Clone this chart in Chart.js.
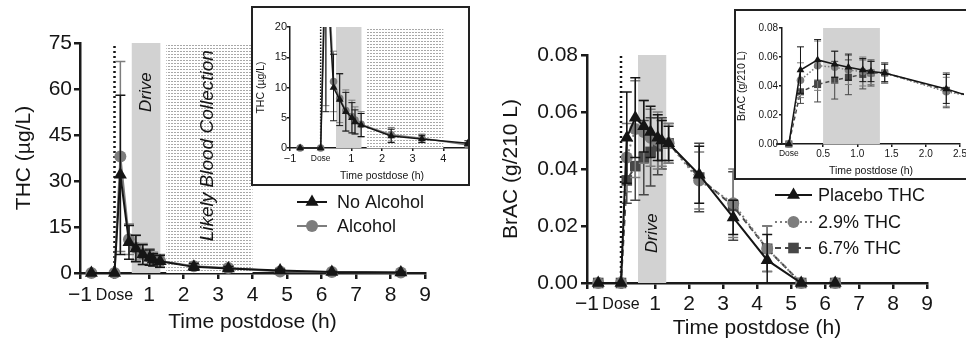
<!DOCTYPE html>
<html>
<head>
<meta charset="utf-8">
<script src="https://cdn.jsdelivr.net/npm/chart.js@4/dist/chart.umd.min.js"></script>
<style>
html, body { margin: 0; padding: 0; background: #fff; overflow: hidden; }
.pane { position: absolute; }
.inset { position: absolute; background: #fff; border: 2px solid #222; box-sizing: border-box; overflow: hidden; }
</style>
</head>
<body>
<div class="pane" style="left:0;top:0;width:480px;height:343px"><canvas id="thcMain"></canvas></div>
<div class="pane" style="left:480px;top:0;width:486px;height:343px"><canvas id="bracMain"></canvas></div>
<div class="inset" style="left:251px;top:6px;width:219px;height:180px">
  <div class="pane" style="left:0;top:0;width:230px;height:176px"><canvas id="thcInset"></canvas></div>
</div>
<div class="inset" style="left:734px;top:9px;width:240px;height:171px">
  <div class="pane" style="left:0;top:0;width:236px;height:167px"><canvas id="bracInset"></canvas></div>
</div>
<script>
// blood THC after smoking, with and without alcohol (hours from dose)
const thcTime = [-0.67, 0, 0.17, 0.42, 0.62, 0.82, 1.02, 1.12, 1.32, 2.3, 3.3, 4.8, 6.3, 8.3];
const thcNoAlcohol = [0, 0, 32, 10, 8, 6, 5, 4.3, 3.8, 2.0, 1.5, 0.8, 0.3, 0.2];
const thcNoAlcoholSd = [0, 0, 26, 5.5, 4.3, 3.2, 2.5, 2.0, 1.9, 1.1, 0.6, 0.4, 0.2, 0.1];
const thcAlcohol = [0, 0, 38, 11, 8.2, 6.2, 5.2, 4.6, 3.9, 2.2, 1.6, 0.5, 0.3, 0.2];
const thcAlcoholSd = [0, 0, 31, 5, 4, 3.4, 2.7, 2.2, 2.1, 1.2, 0.7, 0.3, 0.2, 0.1];

// breath alcohol by THC condition
const bracTime = [-0.67, 0, 0.17, 0.42, 0.67, 0.87, 1.08, 1.2, 1.4, 2.3, 3.3, 4.3, 5.3, 6.3];
const bracPlacebo = [0, 0, 0.051, 0.058, 0.055, 0.053, 0.051, 0.050, 0.049, 0.038, 0.023, 0.008, 0, 0];
const bracPlaceboSd = [0, 0, 0.016, 0.014, 0.009, 0.009, 0.008, 0.007, 0.006, 0.010, 0.006, 0.009, 0, 0];
const brac29 = [0, 0, 0.044, 0.054, 0.053, 0.051, 0.050, 0.049, 0.049, 0.036, 0.028, 0.012, 0, 0];
const brac29Sd = [0, 0, 0.012, 0.017, 0.011, 0.010, 0.010, 0.008, 0.007, 0.010, 0.012, 0.008, 0, 0];
const brac67 = [0, 0, 0.036, 0.041, 0.044, 0.046, 0.048, 0.049, 0.049, 0.037, 0.027, 0.012, 0, 0];
const brac67Sd = [0, 0, 0.008, 0.012, 0.013, 0.012, 0.010, 0.009, 0.007, 0.012, 0.012, 0.008, 0, 0];

const driveWindow = [0.5, 1.33];
const bloodWindow = [1.5, 4.0];

const hourTicks = [-1, 0, 1, 2, 3, 4, 5, 6, 7, 8, 9];
const thcTicks = [0, 15, 30, 45, 60, 75];
const thcInsetHours = [-1, 0, 1, 2, 3, 4, 5];
const thcInsetTicks = [0, 5, 10, 15, 20];
const bracTicks = [0, 0.02, 0.04, 0.06, 0.08];
const bracInsetHours = [0, 0.5, 1, 1.5, 2, 2.5];

const FONT = "'Liberation Sans', Arial, Helvetica, sans-serif";
const INK = '#151515';

function drawMarker(ctx, style, x, y, r, color) {
  ctx.save();
  ctx.fillStyle = color;
  ctx.beginPath();
  if (style === 'triangle') {
    ctx.moveTo(x, y - r);
    ctx.lineTo(x + r * 0.866, y + r * 0.5);
    ctx.lineTo(x - r * 0.866, y + r * 0.5);
    ctx.closePath();
  } else if (style === 'rect') {
    const s = r * Math.SQRT1_2;
    ctx.rect(x - s, y - s, 2 * s, 2 * s);
  } else {
    ctx.arc(x, y, r, 0, Math.PI * 2);
  }
  ctx.fill();
  ctx.restore();
}

let dots = null;
function dotFill(ctx) {
  if (!dots) {
    const c = document.createElement('canvas');
    c.width = 3; c.height = 3;
    const p = c.getContext('2d');
    p.fillStyle = '#fff'; p.fillRect(0, 0, 3, 3);
    p.fillStyle = '#a8a8a8'; p.fillRect(0, 0, 2, 1);
    dots = c;
  }
  return ctx.createPattern(dots, 'repeat');
}

// shaded time windows, their captions and the dosing line
const windowsPlugin = {
  id: 'windows',
  beforeDatasetsDraw(chart, args, opts) {
    const {ctx, chartArea: a, scales: {x, y}} = chart;
    ctx.save();
    ctx.beginPath();
    ctx.rect(a.left, a.top, a.width, a.height);
    ctx.clip();
    const yTop = y.getPixelForValue(y.max), yBot = y.getPixelForValue(0);
    (opts.bands || []).forEach(b => {
      const x0 = x.getPixelForValue(b.range[0]), x1 = x.getPixelForValue(b.range[1]);
      ctx.fillStyle = b.fill === 'dots' ? dotFill(ctx) : b.fill;
      ctx.fillRect(x0, yTop, x1 - x0, yBot - yTop);
      if (b.text) {
        ctx.save();
        ctx.translate((x0 + x1) / 2 + (b.dx || 0), y.getPixelForValue(b.textAt));
        ctx.rotate(-Math.PI / 2);
        ctx.font = 'italic ' + b.size + 'px ' + FONT;
        ctx.fillStyle = INK;
        ctx.textAlign = 'center';
        ctx.textBaseline = 'middle';
        ctx.fillText(b.text, 0, 0);
        ctx.restore();
      }
    });
    if (opts.dose) {
      const px = x.getPixelForValue(0);
      ctx.strokeStyle = INK;
      ctx.lineWidth = opts.dose.width;
      ctx.setLineDash(opts.dose.dash);
      ctx.beginPath();
      ctx.moveTo(px, yBot);
      ctx.lineTo(px, yTop);
      ctx.stroke();
    }
    ctx.restore();
  }
};

// mean ± SD whiskers, drawn under each series' markers
const whiskerPlugin = {
  id: 'whiskers',
  beforeDatasetDraw(chart, args, opts) {
    const ds = chart.data.datasets[args.index];
    if (!ds.sd) return;
    const {ctx, chartArea: a, scales: {y}} = chart;
    ctx.save();
    if (opts.clip) {
      ctx.beginPath();
      ctx.rect(a.left - 6, a.top, a.width + 12, a.height + 8);
      ctx.clip();
    }
    ctx.strokeStyle = ds.borderColor;
    ctx.lineWidth = opts.width;
    args.meta.data.forEach((pt, i) => {
      const sd = ds.sd[i];
      if (!sd) return;
      const v = ds.data[i].y;
      const hi = y.getPixelForValue(v + sd), lo = y.getPixelForValue(Math.max(v - sd, 0));
      ctx.beginPath();
      ctx.moveTo(pt.x, hi); ctx.lineTo(pt.x, lo);
      ctx.moveTo(pt.x - opts.cap, hi); ctx.lineTo(pt.x + opts.cap, hi);
      if (v - sd > 0) { ctx.moveTo(pt.x - opts.cap, lo); ctx.lineTo(pt.x + opts.cap, lo); }
      ctx.stroke();
    });
    ctx.restore();
  }
};

// symbol key: line sample, marker and label per series
const keyPlugin = {
  id: 'key',
  afterDraw(chart, args, opts) {
    if (!opts.rows) return;
    const ctx = chart.ctx;
    chart.data.datasets.forEach((ds, i) => {
      const cy = opts.rows[i];
      ctx.save();
      ctx.strokeStyle = ds.borderColor;
      ctx.lineWidth = ds.borderWidth;
      ctx.setLineDash(ds.borderDash || []);
      ctx.beginPath();
      ctx.moveTo(opts.x, cy); ctx.lineTo(opts.x + opts.len, cy);
      ctx.stroke();
      ctx.restore();
      drawMarker(ctx, ds.pointStyle, opts.x + opts.len / 2, cy, ds.pointRadius, ds.pointBackgroundColor);
      ctx.save();
      ctx.font = opts.size + 'px ' + FONT;
      ctx.fillStyle = INK;
      ctx.textBaseline = 'middle';
      ctx.fillText(ds.label, opts.textX, cy + 1);
      ctx.restore();
    });
  }
};

function series(label, xs, ys, sd, look) {
  return Object.assign({
    label,
    data: xs.map((t, i) => ({x: t, y: ys[i]})),
    sd,
    tension: 0,
    pointBorderWidth: 0,
    pointBackgroundColor: look.borderColor,
    pointBorderColor: look.borderColor,
    backgroundColor: look.borderColor
  }, look);
}

function hourLabel(v) {
  if (v === 0) return 'Dose';
  if (v < 0) return '\u2212' + Math.abs(v);
  return String(v);
}

function buildChart(id, o) {
  const canvas = document.getElementById(id);
  const W = canvas.parentNode.clientWidth, H = canvas.parentNode.clientHeight;
  const axis = {color: '#1a1a1a', width: o.axisWidth};
  const grid = {drawOnChartArea: false, drawTicks: true, tickLength: o.tickLen, color: '#1a1a1a', lineWidth: o.axisWidth};
  return new Chart(canvas, {
    type: 'line',
    data: {datasets: o.datasets},
    options: {
      responsive: true,
      maintainAspectRatio: false,
      animation: false,
      events: [],
      layout: {padding: {left: 0, top: o.plot.top, right: W - o.plot.right, bottom: 0}},
      plugins: {
        legend: {display: false},
        tooltip: {enabled: false},
        windows: o.windows,
        whiskers: o.whiskers,
        key: o.key || {}
      },
      scales: {
        x: {
          type: 'linear', min: o.x.min, max: o.x.max,
          afterBuildTicks: s => { s.ticks = o.x.ticks.map(v => ({value: v})); },
          afterFit: s => { s.height = H - o.plot.bottom; },
          border: axis, grid,
          ticks: {
            color: INK, padding: o.x.pad, maxRotation: 0, autoSkip: false,
            callback: o.x.label,
            font: c => (c.tick && c.tick.value === 0
              ? {family: FONT, size: o.doseSize, lineHeight: o.tickSize * 1.2 / o.doseSize}
              : {family: FONT, size: o.tickSize})
          },
          title: {display: true, text: 'Time postdose (h)', color: INK,
            font: {family: FONT, size: o.titleSize}, padding: {top: 0, bottom: o.x.titlePad}}
        },
        y: {
          type: 'linear', min: o.y.min, max: o.y.max,
          afterBuildTicks: s => { s.ticks = o.y.ticks.map(v => ({value: v})); },
          afterFit: s => { s.width = o.plot.left; },
          border: axis, grid,
          ticks: {color: INK, padding: o.y.pad, callback: o.y.label, font: {family: FONT, size: o.tickSize}},
          title: {display: true, text: o.y.title, color: INK,
            font: {family: FONT, size: o.titleSize}, padding: {top: o.y.titlePad, bottom: 0}}
        }
      }
    },
    plugins: [windowsPlugin, whiskerPlugin, keyPlugin]
  });
}

const mainLooks = {
  noAlc: {borderColor: INK, borderWidth: 2, pointStyle: 'triangle', pointRadius: 7.5, clip: false},
  alc: {borderColor: '#7d7d7d', borderWidth: 2, pointStyle: 'circle', pointRadius: 6, clip: false},
  placebo: {borderColor: INK, borderWidth: 2, pointStyle: 'triangle', pointRadius: 7.5, clip: false},
  low: {borderColor: '#7d7d7d', borderWidth: 2, borderDash: [2, 3], pointStyle: 'circle', pointRadius: 6, clip: false},
  high: {borderColor: '#474747', borderWidth: 2, borderDash: [6, 4], pointStyle: 'rect', pointRadius: 7.5, clip: false}
};
const insetClip = {left: 6, top: 0, right: 4, bottom: 8};
const insetLooks = {
  noAlc: {borderColor: INK, borderWidth: 1.5, pointStyle: 'triangle', pointRadius: 4.5, clip: insetClip},
  alc: {borderColor: '#7d7d7d', borderWidth: 1.5, pointStyle: 'circle', pointRadius: 3.8, clip: insetClip},
  placebo: {borderColor: INK, borderWidth: 1.5, pointStyle: 'triangle', pointRadius: 4.5, clip: insetClip},
  low: {borderColor: '#7d7d7d', borderWidth: 1.5, borderDash: [1.5, 2], pointStyle: 'circle', pointRadius: 3.8, clip: insetClip},
  high: {borderColor: '#474747', borderWidth: 1.5, borderDash: [4, 3], pointStyle: 'rect', pointRadius: 5, clip: insetClip}
};

function thcSets(look) {
  return [
    series('No Alcohol', thcTime, thcNoAlcohol, thcNoAlcoholSd, look.noAlc),
    series('Alcohol', thcTime, thcAlcohol, thcAlcoholSd, look.alc)
  ];
}
function bracSets(look) {
  return [
    series('Placebo THC', bracTime, bracPlacebo, bracPlaceboSd, look.placebo),
    series('2.9% THC', bracTime, brac29, brac29Sd, look.low),
    series('6.7% THC', bracTime, brac67, brac67Sd, look.high)
  ];
}

buildChart('thcMain', {
  plot: {left: 80, top: 43, right: 425, bottom: 273},
  axisWidth: 2.5, tickLen: 6, tickSize: 21, doseSize: 16, titleSize: 21,
  x: {min: -1, max: 9, ticks: hourTicks, label: hourLabel, pad: 4, titlePad: 8},
  y: {min: 0, max: 75, ticks: thcTicks, label: v => String(v), pad: 2, title: 'THC (\u00b5g/L)', titlePad: 12},
  datasets: thcSets(mainLooks),
  windows: {
    bands: [
      {range: driveWindow, fill: '#d2d2d2', text: 'Drive', textAt: 59, size: 17},
      {range: bloodWindow, fill: 'dots', text: 'Likely Blood Collection', textAt: 41.5, size: 19, dx: -2}
    ],
    dose: {width: 2.5, dash: [2, 3]}
  },
  whiskers: {width: 1.5, cap: 5},
  key: {x: 297, len: 30, textX: 337, rows: [202, 226], size: 18}
});

buildChart('bracMain', {
  plot: {left: 107, top: 55, right: 447, bottom: 283},
  axisWidth: 2.5, tickLen: 6, tickSize: 21, doseSize: 16, titleSize: 21,
  x: {min: -1, max: 9, ticks: hourTicks, label: hourLabel, pad: 3, titlePad: 2},
  y: {min: 0, max: 0.08, ticks: bracTicks, label: v => v.toFixed(2), pad: 3, title: 'BrAC (g/210 L)', titlePad: 19},
  datasets: bracSets(mainLooks),
  windows: {
    bands: [{range: driveWindow, fill: '#d2d2d2', text: 'Drive', textAt: 0.0175, size: 17}],
    dose: {width: 2.5, dash: [2, 3]}
  },
  whiskers: {width: 1.5, cap: 5},
  key: {x: 295, len: 37, textX: 338, rows: [195, 222, 248], size: 18}
});

buildChart('thcInset', {
  plot: {left: 37, top: 19, right: 221, bottom: 140},
  axisWidth: 1.5, tickLen: 3, tickSize: 11, doseSize: 8.5, titleSize: 10.5,
  x: {min: -1, max: 5, ticks: thcInsetHours, label: hourLabel, pad: 1, titlePad: 2},
  y: {min: 0, max: 20, ticks: thcInsetTicks, label: v => String(v), pad: 0, title: 'THC (\u00b5g/L)', titlePad: 2},
  datasets: thcSets(insetLooks),
  windows: {
    bands: [
      {range: driveWindow, fill: '#d2d2d2'},
      {range: bloodWindow, fill: 'dots'}
    ],
    dose: {width: 1.5, dash: [1.5, 1.5]}
  },
  whiskers: {width: 1, cap: 3.5, clip: true}
});

buildChart('bracInset', {
  plot: {left: 46, top: 17, right: 224, bottom: 133},
  axisWidth: 1.5, tickLen: 3, tickSize: 10, doseSize: 8.5, titleSize: 10.5,
  x: {min: -0.1, max: 2.5, ticks: bracInsetHours, label: v => (v === 0 ? 'Dose' : v.toFixed(1)), pad: 1, titlePad: 1},
  y: {min: 0, max: 0.08, ticks: bracTicks, label: v => v.toFixed(2), pad: 1, title: 'BrAC (g/210 L)', titlePad: 0},
  datasets: bracSets(insetLooks),
  windows: {bands: [{range: driveWindow, fill: '#d2d2d2'}]},
  whiskers: {width: 1, cap: 3.5, clip: true}
});
</script>
</body>
</html>
